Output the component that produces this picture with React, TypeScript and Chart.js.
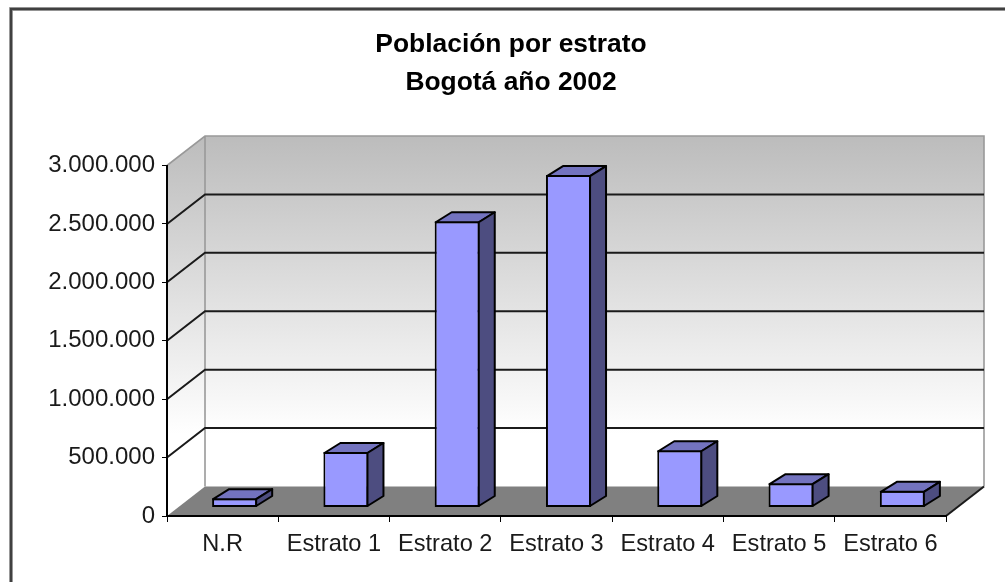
import React, { useEffect, useRef } from "react";
import { Chart, registerables } from "chart.js";

Chart.register(...registerables);

const categories = ["N.R", "Estrato 1", "Estrato 2", "Estrato 3", "Estrato 4", "Estrato 5", "Estrato 6"];
const poblacion = [80000, 475000, 2450000, 2845000, 490000, 208000, 143000];
const titleLines = ["Población por estrato", "Bogotá año 2002"];

const FONT = "'Liberation Sans', Arial, sans-serif";
const WALL_DX = 38;
const WALL_DY = 29.5;
const BAR_SHIFT_X = 12;
const BAR_SHIFT_Y = 8.5;
const BAR_DX = 16;
const BAR_DY = 10;

const scene = {
  id: "scene3d",
  beforeDraw(chart: any) {
    const { ctx, width, height, chartArea: a, scales } = chart;
    ctx.save();
    ctx.fillStyle = "#ffffff";
    ctx.fillRect(0, 0, width, height);
    // frame: only the top and left edges fall inside the picture
    ctx.lineCap = "butt";
    ctx.strokeStyle = "#b0b0b0";
    ctx.lineWidth = 4;
    ctx.beginPath();
    ctx.moveTo(11, height);
    ctx.lineTo(11, 9);
    ctx.lineTo(width, 9);
    ctx.stroke();
    ctx.strokeStyle = "#404040";
    ctx.lineWidth = 2.4;
    ctx.beginPath();
    ctx.moveTo(11, height);
    ctx.lineTo(11, 9);
    ctx.lineTo(width, 9);
    ctx.stroke();
    ctx.restore();

    const L = a.left, R = a.right, T = a.top, B = a.bottom;
    const grad = ctx.createLinearGradient(0, T - WALL_DY, 0, B - WALL_DY);
    grad.addColorStop(0, "#bcbcbc");
    grad.addColorStop(0.85, "#ffffff");
    grad.addColorStop(1, "#ffffff");

    ctx.save();
    // back wall + side wall
    ctx.fillStyle = grad;
    ctx.fillRect(L + WALL_DX, T - WALL_DY, R - L, B - T);
    ctx.beginPath();
    ctx.moveTo(L, T);
    ctx.lineTo(L + WALL_DX, T - WALL_DY);
    ctx.lineTo(L + WALL_DX, B - WALL_DY);
    ctx.lineTo(L, B);
    ctx.closePath();
    ctx.fill();
    // floor
    ctx.fillStyle = "#808080";
    ctx.beginPath();
    ctx.moveTo(L, B);
    ctx.lineTo(L + WALL_DX, B - WALL_DY);
    ctx.lineTo(R + WALL_DX, B - WALL_DY);
    ctx.lineTo(R, B);
    ctx.closePath();
    ctx.fill();
    // wall edges
    ctx.strokeStyle = "#999999";
    ctx.lineWidth = 1.6;
    ctx.beginPath();
    ctx.moveTo(L, T);
    ctx.lineTo(L + WALL_DX, T - WALL_DY);
    ctx.lineTo(R + WALL_DX, T - WALL_DY);
    ctx.lineTo(R + WALL_DX, B - WALL_DY);
    ctx.moveTo(L + WALL_DX, T - WALL_DY);
    ctx.lineTo(L + WALL_DX, B - WALL_DY);
    ctx.stroke();
    // gridlines, from the value scale
    ctx.strokeStyle = "#1a1a1a";
    ctx.lineWidth = 2;
    ctx.beginPath();
    for (const t of scales.y.ticks) {
      if (t.value === 0 || t.value === scales.y.max) continue;
      const y = scales.y.getPixelForValue(t.value);
      ctx.moveTo(L, y);
      ctx.lineTo(L + WALL_DX, y - WALL_DY);
      ctx.lineTo(R + WALL_DX, y - WALL_DY);
    }
    ctx.stroke();
    // right floor edge
    ctx.strokeStyle = "#1a1a1a";
    ctx.beginPath();
    ctx.moveTo(R, B);
    ctx.lineTo(R + WALL_DX, B - WALL_DY);
    ctx.stroke();
    ctx.restore();
  },
  beforeDatasetDraw(chart: any) {
    chart.ctx.save();
    chart.ctx.translate(BAR_SHIFT_X, -BAR_SHIFT_Y);
  },
  afterDatasetDraw(chart: any, args: any) {
    const { ctx } = chart;
    ctx.lineWidth = 2;
    ctx.strokeStyle = "#000000";
    ctx.lineJoin = "round";
    for (const el of args.meta.data) {
      const p = el.getProps(["x", "y", "base", "width"], true);
      const l = p.x - p.width / 2, r = p.x + p.width / 2;
      ctx.fillStyle = "#7373bf";
      ctx.beginPath();
      ctx.moveTo(l + 1, p.y + 1);
      ctx.lineTo(l + 1 + BAR_DX, p.y + 1 - BAR_DY);
      ctx.lineTo(r - 1 + BAR_DX, p.y + 1 - BAR_DY);
      ctx.lineTo(r - 1, p.y + 1);
      ctx.closePath();
      ctx.fill();
      ctx.stroke();
      ctx.fillStyle = "#4d4d80";
      ctx.beginPath();
      ctx.moveTo(r - 1, p.y + 1);
      ctx.lineTo(r - 1 + BAR_DX, p.y + 1 - BAR_DY);
      ctx.lineTo(r - 1 + BAR_DX, p.base - 1 - BAR_DY);
      ctx.lineTo(r - 1, p.base - 1);
      ctx.closePath();
      ctx.fill();
      ctx.stroke();
    }
    ctx.restore();
  },
};

export default function App() {
  const ref = useRef<HTMLCanvasElement>(null);
  useEffect(() => {
    const chart = new Chart(ref.current!, {
      type: "bar",
      data: {
        labels: categories,
        datasets: [
          {
            data: poblacion,
            backgroundColor: "#9999ff",
            borderColor: "#000000",
            borderWidth: 2,
            borderSkipped: false,
            categoryPercentage: 0.405,
            barPercentage: 1,
            clip: false,
          } as any,
        ],
      },
      plugins: [scene],
      options: {
        responsive: false,
        animation: false,
        layout: { padding: { left: 18, right: 1, top: 0, bottom: 0 } },
        plugins: {
          legend: { display: false },
          tooltip: { enabled: false },
          title: {
            display: true,
            text: titleLines,
            color: "#000000",
            font: { family: FONT, size: 26.4, weight: "bold", lineHeight: 38 / 26.4 },
            padding: { top: 26, bottom: 63.5 },
          },
        },
        scales: {
          x: {
            afterFit: (s: any) => {
              s.height = 66;
            },
            grid: { drawOnChartArea: false, color: "#000000", tickLength: 6, offset: true },
            border: { color: "#000000", width: 2 },
            ticks: {
              color: "#1a1a1a",
              autoSkip: false,
              maxRotation: 0,
              padding: 8,
              font: { family: FONT, size: 23.6 },
            },
          },
          y: {
            min: 0,
            max: 3000000,
            afterFit: (s: any) => {
              s.width = 149;
            },
            grid: { drawOnChartArea: false, color: "#000000", tickLength: 5 },
            border: { color: "#000000", width: 2 },
            ticks: {
              stepSize: 500000,
              color: "#1a1a1a",
              padding: 7,
              font: { family: FONT, size: 24 },
              callback: (v: any) => String(v).replace(/\B(?=(\d{3})+(?!\d))/g, "."),
            },
          },
          // empty axis that only reserves the margin at the right of the plot
          yMargin: {
            position: "right",
            display: true,
            afterFit: (s: any) => {
              s.width = 58;
            },
            grid: { display: false },
            border: { display: false },
            ticks: { display: false },
          },
        },
      },
    } as any);
    return () => chart.destroy();
  }, []);
  return (
    <canvas
      ref={ref}
      width={1005}
      height={582}
      style={{ position: "absolute", left: 0, top: 0, display: "block" }}
    />
  );
}
